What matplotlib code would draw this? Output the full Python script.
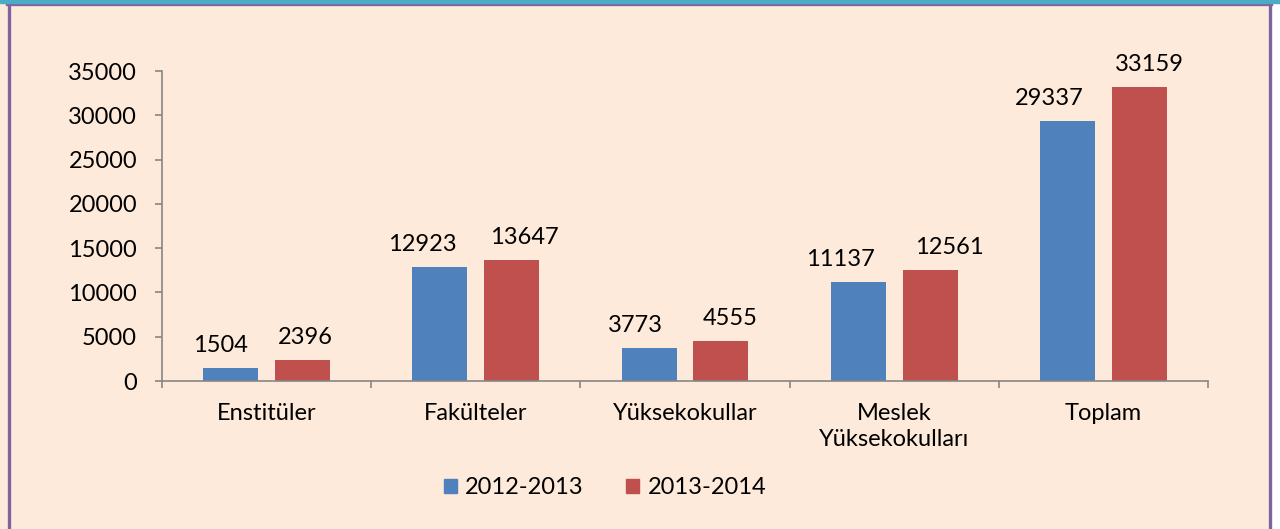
import matplotlib.pyplot as plt
import matplotlib.ticker as ticker
from matplotlib.lines import Line2D
from matplotlib.patches import Patch, Rectangle
import numpy as np

categories = ['Enstitüler', 'Fakülteler', 'Yüksekokullar', 'Meslek\nYüksekokulları', 'Toplam']
series_names = ['2012-2013', '2013-2014']
values_2012 = [1504, 12923, 3773, 11137, 29337]
values_2013 = [2396, 13647, 4555, 12561, 33159]
y_ticks = [0, 5000, 10000, 15000, 20000, 25000, 30000, 35000]

# the value labels were nudged sideways in the original (pixels)
label_shift_2012 = [-10, -17, -14, -18, -18]
label_shift_2013 = [3, 13, 9, 19, 10]

blue = '#4F81BD'
red = '#C0504D'
axis_gray = '#868686'
fs = 17

plt.rcParams['font.family'] = ['Lato', 'DejaVu Sans']

W, H = 1280, 529
fig = plt.figure(figsize=(W / 100, H / 100), dpi=100)
fig.patch.set_facecolor('#FDEADA')

ax = fig.add_axes([162 / W, 1 - 381 / H, (1208 - 162) / W, (381 - 71) / H])
ax.set_facecolor('none')

x = np.arange(len(categories))
width = 0.263
off = 0.172
b1 = ax.bar(x - off, values_2012, width, color=blue, label=series_names[0])
b2 = ax.bar(x + off, values_2013, width, color=red, label=series_names[1])

for bars, shifts in ((b1, label_shift_2012), (b2, label_shift_2013)):
    for rect, dx in zip(bars, shifts):
        ax.annotate(f'{int(rect.get_height())}',
                    (rect.get_x() + rect.get_width() / 2, rect.get_height()),
                    xytext=(dx, 12), textcoords='offset pixels',
                    ha='center', va='bottom', fontsize=fs, color='black')

ax.set_xlim(-0.5, len(categories) - 0.5)
ax.set_ylim(0, 35000)
ax.set_yticks(y_ticks)
ax.yaxis.set_major_formatter(ticker.FuncFormatter(lambda v, p: f'{int(v)}'))

# category labels in the middle, ticks on the boundaries
ax.set_xticks(np.arange(-0.5, len(categories)), labels=[''] * (len(categories) + 1))
ax.set_xticks(x, labels=categories, minor=True)
ax.tick_params(axis='x', which='major', length=5, width=1.2, color=axis_gray, direction='out')
ax.tick_params(axis='x', which='minor', length=0, pad=16, labelsize=fs)
for lbl in ax.get_xticklabels(minor=True):
    lbl.set_linespacing(1.3)
ax.tick_params(axis='y', length=5, width=1.2, color=axis_gray, direction='out', pad=13, labelsize=fs)

for side in ('top', 'right'):
    ax.spines[side].set_visible(False)
for side in ('left', 'bottom'):
    ax.spines[side].set_color(axis_gray)
    ax.spines[side].set_linewidth(1.2)

handles = [Patch(color=blue, label=series_names[0]), Patch(color=red, label=series_names[1])]
fig.legend(handles=handles, loc='center', bbox_to_anchor=(605 / W, 1 - 488 / H),
           ncol=2, frameon=False, fontsize=fs, handlelength=0.55, handleheight=0.55,
           handletextpad=0.35, columnspacing=1.8)

# frame around the chart
purple = '#8064A2'
fig.add_artist(Rectangle((1272 / W, 0), 8 / W, 1, transform=fig.transFigure,
                         color='white', zorder=0))
fig.add_artist(Rectangle((0, 1 - 2.5 / H), 1, 2.5 / H, transform=fig.transFigure,
                         color='#4BACC6', zorder=3))
fig.add_artist(Line2D([8.5 / W, 8.5 / W], [0, 1 - 4 / H], transform=fig.transFigure,
                      color=purple, linewidth=2.4))
fig.add_artist(Line2D([1269.5 / W, 1269.5 / W], [0, 1 - 4 / H], transform=fig.transFigure,
                      color=purple, linewidth=2.4))
fig.add_artist(Line2D([7 / W, 1271 / W], [1 - 4 / H, 1 - 4 / H], transform=fig.transFigure,
                      color=purple, linewidth=2.4))

fig.savefig('out.png', dpi=100, facecolor=fig.get_facecolor())
